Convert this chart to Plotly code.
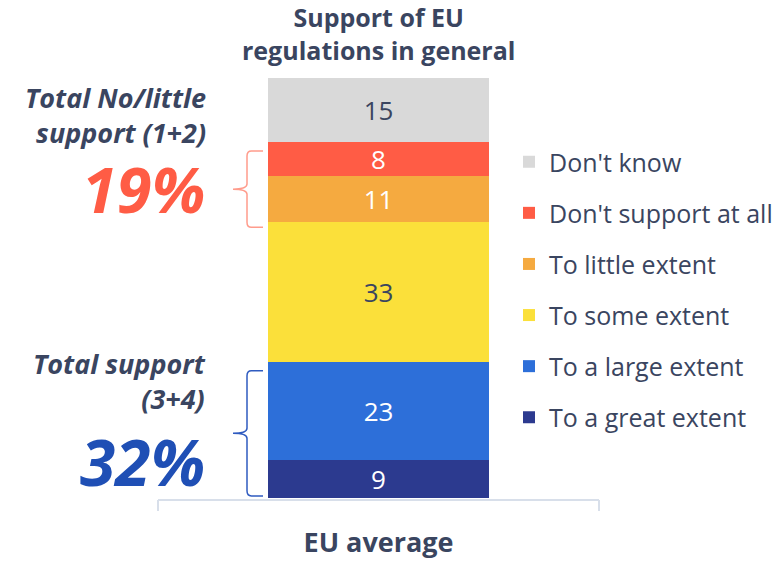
import plotly.graph_objects as go

categories = ["EU average"]
series_names = ["To a great extent", "To a large extent", "To some extent",
                "To little extent", "Don't support at all", "Don't know"]
series_values = [9, 23, 33, 11, 8, 15]
series_colors = ["#2c3a8f", "#2d6fd9", "#fbe03a", "#f5aa40", "#ff5c45", "#d9d9d9"]
label_colors = ["white", "white", "#3a4560", "white", "white", "#3a4560"]
total_support = "32%"
total_nolittle = "19%"

TXT = "#3a4560"
FONT = "Open Sans"
W, H = 779, 563
L, R, T, B = 158, 180, 78, 65
plot_h = H - T - B
plot_w = W - L - R

def py(pix):
    return (H - B - pix) / plot_h

def px(pix):
    return (pix - L) / plot_w

fig = go.Figure()
for name, val, col, lc in zip(series_names, series_values, series_colors, label_colors):
    fig.add_trace(go.Bar(
        x=categories, y=[val], name=name, marker=dict(color=col, line=dict(width=0)),
        text=[str(val)], textposition="inside", insidetextanchor="middle", textangle=0,
        constraintext="none",
        textfont=dict(family=FONT, size=26, color=lc), showlegend=False,
        width=0.5, hoverinfo="skip"))
# legend entries, top to bottom: Don't know ... To a great extent
for name, col in reversed(list(zip(series_names, series_colors))):
    fig.add_trace(go.Scatter(
        x=[None], y=[None], mode="markers", name=name, legendgroup=name,
        marker=dict(symbol="square", size=16, color=col), showlegend=True))

total = sum(series_values)
fig.update_layout(
    width=W, height=H, margin=dict(l=L, r=R, t=T, b=B, pad=0, autoexpand=False),
    plot_bgcolor="white", paper_bgcolor="white",
    barmode="stack", bargap=0,
    uniformtext=dict(minsize=26, mode="show"),
    font=dict(family=FONT, color=TXT),
    xaxis=dict(type="category", range=[-0.5, 0.5], showgrid=False, showline=False,
               zeroline=False, ticks="", tickmode="array", tickvals=categories,
               ticktext=["<b>" + c + "</b>" for c in categories], automargin=False,
               tickfont=dict(family=FONT, size=27, color=TXT), ticklabelstandoff=26),
    yaxis=dict(range=[0, total], visible=False, showgrid=False, zeroline=False,
               automargin=False),
    legend=dict(x=px(509), y=py(139), xanchor="left", yanchor="top",
                traceorder="grouped", tracegroupgap=15.6,
                font=dict(family=FONT, size=25, color=TXT),
                itemsizing="constant", bgcolor="rgba(0,0,0,0)"),
    showlegend=True,
)

# axis baseline with end ticks
axc = "#d8dfea"
fig.add_shape(type="line", xref="paper", yref="paper", x0=0, x1=1, y0=py(500), y1=py(500),
              line=dict(color=axc, width=2))
for xx in (0, 1):
    fig.add_shape(type="line", xref="paper", yref="paper", x0=xx, x1=xx, y0=py(500), y1=py(511),
                  line=dict(color=axc, width=2))

# braces
def brace(y0, y1, color):
    xl, xv, xr = px(233), px(247), px(263)
    ym = (y0 + y1) / 2
    r = 1.2
    path = (f"M {xr},{y1} L {xv + 0.01},{y1} Q {xv},{y1} {xv},{y1 - r} "
            f"L {xv},{ym + r} Q {xv},{ym} {xl},{ym} Q {xv},{ym} {xv},{ym - r} "
            f"L {xv},{y0 + r} Q {xv},{y0} {xv + 0.01},{y0} L {xr},{y0}")
    fig.add_shape(type="path", xref="paper", yref="y", path=path,
                  line=dict(color=color, width=1.5))

cum = [sum(series_values[:i]) for i in range(len(series_values) + 1)]
brace(cum[3] - 1.2, cum[5] - 2.2, "#ff9c8c")
brace(cum[0] + 0.5, cum[2] - 2.0, "#2f5bc0")

ann = [
    dict(text="<b>Support of EU<br>regulations in general</b>", x=0.5, y=py(33.5),
         xanchor="center", yanchor="middle", font=dict(size=25, color=TXT)),
    dict(text="<b><i>Total No/little<br>support (1+2)</i></b>", x=px(208), y=py(115),
         xanchor="right", yanchor="middle", align="right", font=dict(size=27, color=TXT)),
    dict(text="<b><i>" + total_nolittle + "</i></b>", x=px(207), y=py(188),
         xanchor="right", yanchor="middle", font=dict(size=63, color="#ff5c45")),
    dict(text="<b><i>Total support<br>(3+4)</i></b>", x=px(208), y=py(381),
         xanchor="right", yanchor="middle", align="right", font=dict(size=27, color=TXT)),
    dict(text="<b><i>" + total_support + "</i></b>", x=px(207), y=py(461),
         xanchor="right", yanchor="middle", font=dict(size=64, color="#1f4fb5")),
]
for a in ann:
    a.update(xref="paper", yref="paper", showarrow=False)
    a["font"]["family"] = FONT
    fig.add_annotation(**a)

fig.write_html("out.html")
